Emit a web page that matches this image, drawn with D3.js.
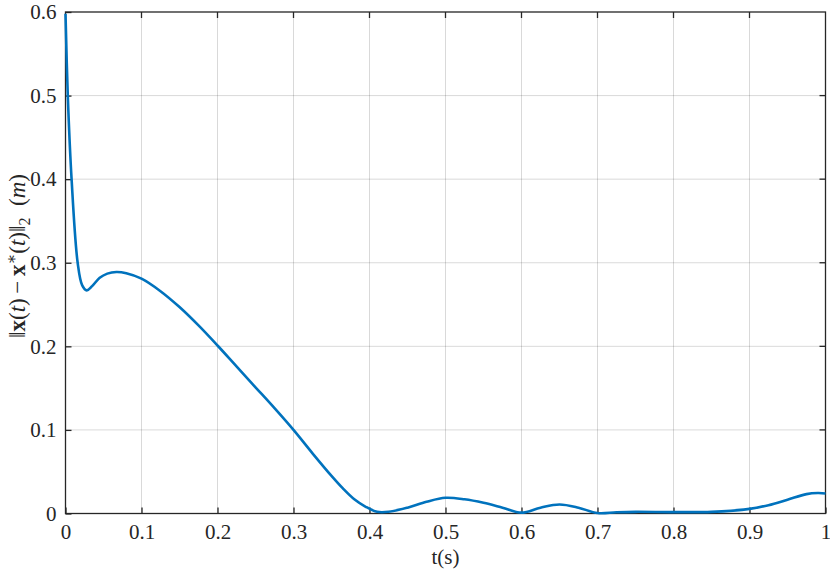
<!DOCTYPE html>
<html>
<head>
<meta charset="utf-8">
<script src="https://cdn.jsdelivr.net/npm/d3@7"></script>
<style>
  body { margin: 0; background: #fff; }
</style>
</head>
<body>
<svg width="830" height="573"></svg>
<script>
// time samples (s) and error norm (m)
var tData = [0, 0.003, 0.008, 0.016, 0.022, 0.028, 0.035, 0.045, 0.055, 0.067, 0.08, 0.1,
             0.125, 0.15, 0.175, 0.2, 0.225, 0.25, 0.275, 0.3, 0.325, 0.35, 0.365, 0.38, 0.395,
             0.41, 0.425, 0.45, 0.475, 0.5, 0.525, 0.55, 0.575, 0.6, 0.625, 0.65, 0.675,
             0.7, 0.725, 0.75, 0.8, 0.85, 0.9, 0.925, 0.95, 0.975, 0.99, 1.0];
var errData = [0.598, 0.50, 0.40, 0.30, 0.273, 0.267, 0.272, 0.282, 0.287, 0.289, 0.2875, 0.281,
               0.266, 0.247, 0.225, 0.201, 0.176, 0.151, 0.126, 0.1, 0.072, 0.045, 0.030, 0.017, 0.008,
               0.002, 0.002, 0.007, 0.014, 0.0188, 0.017, 0.0128, 0.007, 0.001, 0.007, 0.0108, 0.007,
               0.0005, 0.0015, 0.002, 0.0017, 0.002, 0.0055, 0.01, 0.0165, 0.0232, 0.0245, 0.024];
var xTicks = [0, 0.1, 0.2, 0.3, 0.4, 0.5, 0.6, 0.7, 0.8, 0.9, 1];
var yTicks = [0, 0.1, 0.2, 0.3, 0.4, 0.5, 0.6];

var FONT = "'Times New Roman', Times, 'Liberation Serif', 'DejaVu Serif', 'Noto Serif', serif";

var svg = d3.select("svg"),
    pLeft = 65.5, pRight = 825.5, pTop = 12, pBottom = 513.5;

var x = d3.scaleLinear().domain([0, 1]).range([pLeft, pRight]),
    y = d3.scaleLinear().domain([0, 0.6]).range([pBottom, pTop]);

var fmt = function(d) { return d === 0 ? "0" : d === 1 ? "1" : d3.format(".1f")(d); };

// grid
svg.append("g").selectAll("line")
   .data(xTicks.slice(1, -1))
   .enter().append("line")
   .attr("x1", function(d) { return x(d); }).attr("x2", function(d) { return x(d); })
   .attr("y1", pTop).attr("y2", pBottom)
   .attr("stroke", "#000").attr("stroke-opacity", 0.15).attr("stroke-width", 1);
svg.append("g").selectAll("line")
   .data(yTicks.slice(1, -1))
   .enter().append("line")
   .attr("x1", pLeft).attr("x2", pRight)
   .attr("y1", function(d) { return y(d); }).attr("y2", function(d) { return y(d); })
   .attr("stroke", "#000").attr("stroke-opacity", 0.15).attr("stroke-width", 1);

// box
svg.append("rect")
   .attr("x", pLeft).attr("y", pTop)
   .attr("width", pRight - pLeft).attr("height", pBottom - pTop)
   .attr("fill", "none").attr("stroke", "#262626").attr("stroke-width", 1.3);

// axes (inward ticks)
svg.append("g")
   .attr("transform", "translate(0," + pBottom + ")")
   .call(d3.axisBottom(x).tickValues(xTicks).tickFormat(fmt).tickSizeInner(-6).tickSizeOuter(0).tickPadding(11));
svg.append("g")
   .attr("transform", "translate(" + pLeft + ",0)")
   .call(d3.axisLeft(y).tickValues(yTicks).tickFormat(fmt).tickSizeInner(-6).tickSizeOuter(0).tickPadding(9));
svg.selectAll(".domain").remove();
svg.selectAll(".tick line").attr("stroke", "#262626").attr("stroke-width", 1.3);
svg.selectAll("g").attr("font-family", null);
svg.selectAll(".tick text")
   .style("font-family", FONT)
   .style("font-size", "21px")
   .attr("fill", "#262626");

// top/right ticks
svg.append("g").selectAll("line").data(xTicks.slice(1, -1)).enter().append("line")
   .attr("x1", function(d) { return x(d); }).attr("x2", function(d) { return x(d); })
   .attr("y1", pTop).attr("y2", pTop + 6).attr("stroke", "#262626").attr("stroke-width", 1.3);
svg.append("g").selectAll("line").data(yTicks.slice(1, -1)).enter().append("line")
   .attr("x1", pRight).attr("x2", pRight - 6)
   .attr("y1", function(d) { return y(d); }).attr("y2", function(d) { return y(d); })
   .attr("stroke", "#262626").attr("stroke-width", 1.3);

// curve
var pts = tData.map(function(t, i) { return [t, errData[i]]; });
var line = d3.line()
   .x(function(d) { return x(d[0]); })
   .y(function(d) { return y(d[1]); })
   .curve(d3.curveCatmullRom.alpha(0.5));
svg.append("path")
   .datum(pts)
   .attr("d", line)
   .attr("fill", "none")
   .attr("stroke", "#0072BD")
   .attr("stroke-width", 2.6);

// x label
svg.append("text")
   .attr("x", (pLeft + pRight) / 2).attr("y", 564)
   .attr("text-anchor", "middle")
   .style("font-family", FONT)
   .style("font-size", "21px")
   .attr("fill", "#262626")
   .text("t(s)");

// y label
var yl = svg.append("text")
   .attr("transform", "translate(25,256) rotate(-90)")
   .attr("text-anchor", "middle")
   .style("font-family", FONT)
   .style("font-size", "23px")
   .attr("fill", "#262626");
yl.append("tspan").text("\u2016");
yl.append("tspan").style("font-weight", "bold").text("x");
yl.append("tspan").text("(");
yl.append("tspan").style("font-style", "italic").text("t");
yl.append("tspan").text(")\u2009\u2212\u2009");
yl.append("tspan").style("font-weight", "bold").text("x");
yl.append("tspan").attr("dy", -8).style("font-size", "16px").text("\u2217");
yl.append("tspan").attr("dy", 8).text("(");
yl.append("tspan").style("font-style", "italic").text("t");
yl.append("tspan").text(")\u2016");
yl.append("tspan").attr("dy", 5).style("font-size", "16px").text("2");
yl.append("tspan").attr("dy", -5).text("\u2002(");
yl.append("tspan").style("font-style", "italic").text("m");
yl.append("tspan").text(")");
</script>
</body>
</html>
